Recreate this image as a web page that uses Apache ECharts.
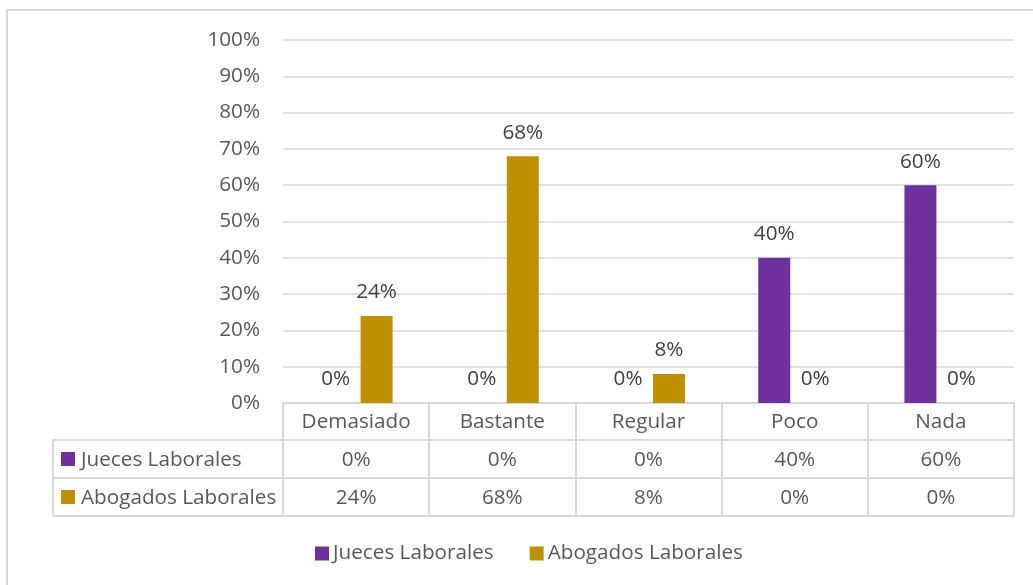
<!DOCTYPE html>
<html>
<head>
<meta charset="utf-8">
<script src="https://cdn.jsdelivr.net/npm/echarts@6/dist/echarts.min.js"></script>
<style>
  html, body { margin: 0; padding: 0; background: #fff; }
  #chart { width: 1033px; height: 585px; }
</style>
</head>
<body>
<div id="chart"></div>
<script>
// Categories and survey percentages per group
const categories = ['Demasiado', 'Bastante', 'Regular', 'Poco', 'Nada'];
const juecesName = 'Jueces Laborales';
const abogadosName = 'Abogados Laborales';
const jueces = [0, 0, 0, 40, 60];
const abogados = [24, 68, 8, 0, 0];

const PURPLE = '#7030A0';
const GOLD = '#BF9000';
const AXIS_TEXT = '#595959';
const LABEL_TEXT = '#404040';
const LINE = '#D9D9D9';
const FONT = 'Open Sans';
const FS = 20.7;

const pct = v => v + '%';

const chart = echarts.init(document.getElementById('chart'), null, { renderer: 'canvas' });

// Geometry of the plot area and the data table under it
const gridLeft = 283, gridRight = 1014, gridTop = 40, gridBottom = 403;
const rowH = [440, 478, 516];
const tableLeft = 53;

const tableLines = [];
rowH.forEach(y => {
  tableLines.push({
    type: 'line', silent: true,
    shape: { x1: tableLeft, y1: y, x2: gridRight, y2: y },
    style: { stroke: LINE, lineWidth: 2 }
  });
});
tableLines.push({
  type: 'line', silent: true,
  shape: { x1: tableLeft, y1: rowH[0], x2: tableLeft, y2: rowH[2] },
  style: { stroke: LINE, lineWidth: 2 }
});

function rowHeader(name, color, yCenter) {
  return [
    { type: 'rect', silent: true, shape: { x: 61, y: yCenter - 7, width: 14, height: 14 }, style: { fill: color } },
    { type: 'text', silent: true, x: 81, y: yCenter + 1,
      style: { text: name, fill: AXIS_TEXT, font: FS + 'px "' + FONT + '"', verticalAlign: 'middle', align: 'left' } }
  ];
}

const option = {
  animation: false,
  backgroundColor: '#fff',
  textStyle: { fontFamily: FONT },
  grid: { left: gridLeft, right: 1033 - gridRight, top: gridTop, bottom: 585 - gridBottom, containLabel: false },
  legend: {
    left: 315, top: 543, padding: 0,
    icon: 'rect', itemWidth: 14, itemHeight: 14, itemGap: 36,
    textStyle: { color: AXIS_TEXT, fontSize: FS, fontFamily: FONT, padding: [0, 0, 0, -1] },
    data: [juecesName, abogadosName]
  },
  xAxis: [
    {
      type: 'category', data: categories,
      axisLine: { show: true, lineStyle: { color: LINE, width: 2 } },
      axisTick: { show: true, length: 113, interval: 0, lineStyle: { color: LINE, width: 2 } },
      axisLabel: { color: AXIS_TEXT, fontSize: FS, fontFamily: FONT, margin: 9, interval: 0 },
      splitLine: { show: false }
    },
    {
      type: 'category', data: jueces.map(pct), position: 'bottom', offset: 38,
      axisLine: { show: false }, axisTick: { show: false },
      axisLabel: { color: AXIS_TEXT, fontSize: FS, fontFamily: FONT, margin: 9, interval: 0 }
    },
    {
      type: 'category', data: abogados.map(pct), position: 'bottom', offset: 76,
      axisLine: { show: false }, axisTick: { show: false },
      axisLabel: { color: AXIS_TEXT, fontSize: FS, fontFamily: FONT, margin: 9, interval: 0 }
    }
  ],
  yAxis: {
    type: 'value', min: 0, max: 100, interval: 10,
    axisLine: { show: false }, axisTick: { show: false },
    axisLabel: { color: AXIS_TEXT, fontSize: FS, fontFamily: FONT, margin: 23, formatter: '{value}%' },
    splitLine: { lineStyle: { color: LINE, width: 1.5 } }
  },
  series: [
    {
      name: juecesName, type: 'bar', xAxisIndex: 0, data: jueces,
      barWidth: 32, barGap: '28%',
      itemStyle: { color: PURPLE },
      label: { show: true, position: 'top', distance: 13, color: LABEL_TEXT, fontSize: FS, fontFamily: FONT, formatter: p => pct(p.value) }
    },
    {
      name: abogadosName, type: 'bar', xAxisIndex: 0, data: abogados,
      barWidth: 32, barGap: '28%',
      itemStyle: { color: GOLD },
      label: { show: true, position: 'top', distance: 13, color: LABEL_TEXT, fontSize: FS, fontFamily: FONT, formatter: p => pct(p.value) }
    }
  ],
  graphic: [
    { type: 'rect', silent: true, shape: { x: 7, y: 10, width: 1200, height: 800 }, style: { fill: 'none', stroke: LINE, lineWidth: 2 } },
    ...tableLines,
    ...rowHeader(juecesName, PURPLE, 459),
    ...rowHeader(abogadosName, GOLD, 497)
  ]
};

chart.setOption(option);
</script>
</body>
</html>
